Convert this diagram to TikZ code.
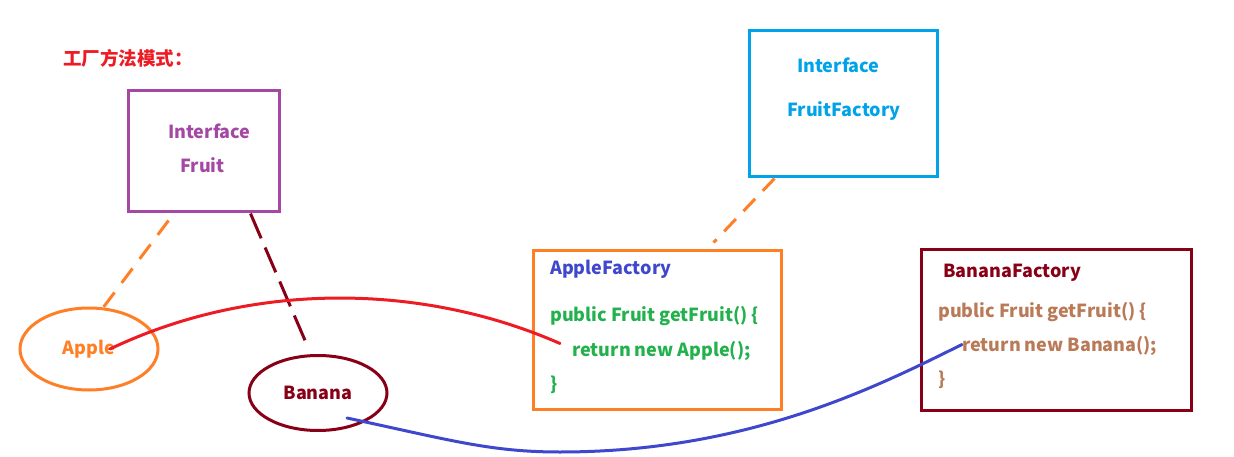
\documentclass[tikz,border=0pt]{standalone}
\usepackage{fontspec}
\setmainfont{Noto Sans CJK SC}
\usetikzlibrary{shapes.geometric}
\definecolor{fruitpurple}{HTML}{A349A4}
\definecolor{factoryblue}{HTML}{00A2E8}
\definecolor{appleorange}{HTML}{FF7F27}
\definecolor{bananared}{HTML}{880015}
\definecolor{titlered}{HTML}{ED1C24}
\definecolor{inkblue}{HTML}{3F48CC}
\definecolor{codegreen}{HTML}{22B14C}
\definecolor{codebrown}{HTML}{B97A57}
\begin{document}
\begin{tikzpicture}
  [x=1pt,y=-1pt,
   every node/.style={font=\bfseries\fontsize{18}{20}\selectfont,inner sep=0pt},
   txt/.style={anchor=mid west,yshift=-4.5pt},
   box/.style={draw,line width=3pt,inner sep=0pt},
   blob/.style={draw,ellipse,line width=3pt,inner sep=0pt},
   link/.style={line width=3pt,dash pattern=on 18pt off 12pt},
   wire/.style={line width=3pt,line cap=round}]
  \useasboundingbox (0,0) rectangle (1234,457);

  \node[txt,text=titlered,font=\bfseries\fontsize{18.5}{20}\selectfont] (title) at (63,58) {工厂方法模式：};

  % interfaces
  \node[box,draw=fruitpurple,minimum width=151pt,minimum height=121pt] (fruit) at (203.5,151.5) {};
  \node[txt,text=fruitpurple] (fruitif) at (168,131) {Interface};
  \node[txt,text=fruitpurple] (fruitname) at (180,165) {Fruit};

  \node[box,draw=factoryblue,minimum width=188pt,minimum height=146pt] (ffactory) at (843,104) {};
  \node[txt,text=factoryblue] (ffactoryif) at (797,65) {Interface};
  \node[txt,text=factoryblue] (ffactoryname) at (787,109) {FruitFactory};

  % factories
  \node[box,draw=appleorange,minimum width=248pt,minimum height=159pt] (afactory) at (657,329.5) {};
  \node[txt,text=inkblue] (afactoryname) at (550,267) {AppleFactory};
  \node[txt,text=codegreen] (applesig) at (550,314) {public Fruit getFruit() \{};
  \node[txt,text=codegreen] (applereturn) at (572,349) {return new Apple();};
  \node[txt,text=codegreen] (appleend) at (550,383) {\}};

  \node[box,draw=bananared,minimum width=270pt,minimum height=161pt] (bfactory) at (1056,329.5) {};
  \node[txt,text=bananared] (bfactoryname) at (943,270) {BananaFactory};
  \node[txt,text=codebrown] (bananasig) at (938,310) {public Fruit getFruit() \{};
  \node[txt,text=codebrown] (bananareturn) at (962,344) {return new Banana();};
  \node[txt,text=codebrown] (bananaend) at (938,378) {\}};

  % products
  \node[blob,draw=appleorange,text=appleorange,minimum width=138pt,minimum height=82pt] (apple) at (89,349) {Apple};
  \node[blob,draw=bananared,text=bananared,minimum width=138pt,minimum height=75pt] (banana) at (318,393) {Banana};

  \draw[link,appleorange] ([shift={(42pt,-7pt)}]fruit.south west) -- (apple.71);
  \draw[link,bananared,dash pattern=on 27pt off 10pt] ([xshift=124pt]fruit.south west) -- ([shift={(-11pt,9pt)}]banana.north);
  \draw[link,appleorange,dash pattern=on 17pt off 11pt] ([xshift=27pt]ffactory.south west) -- ([shift={(182pt,6pt)}]afactory.north west);

  \draw[wire,titlered] ([xshift=21pt]apple.center) .. controls (250,282) and (420,282) .. ([shift={(-12pt,10pt)}]applereturn.mid west);
  \draw[wire,inkblue] ([shift={(29pt,-25pt)}]banana.center) .. controls (450,440) and (490,452) .. (560,452)
    .. controls (750,452) and (880,385) .. ([yshift=4pt]bananareturn.mid west);
\end{tikzpicture}
\end{document}
